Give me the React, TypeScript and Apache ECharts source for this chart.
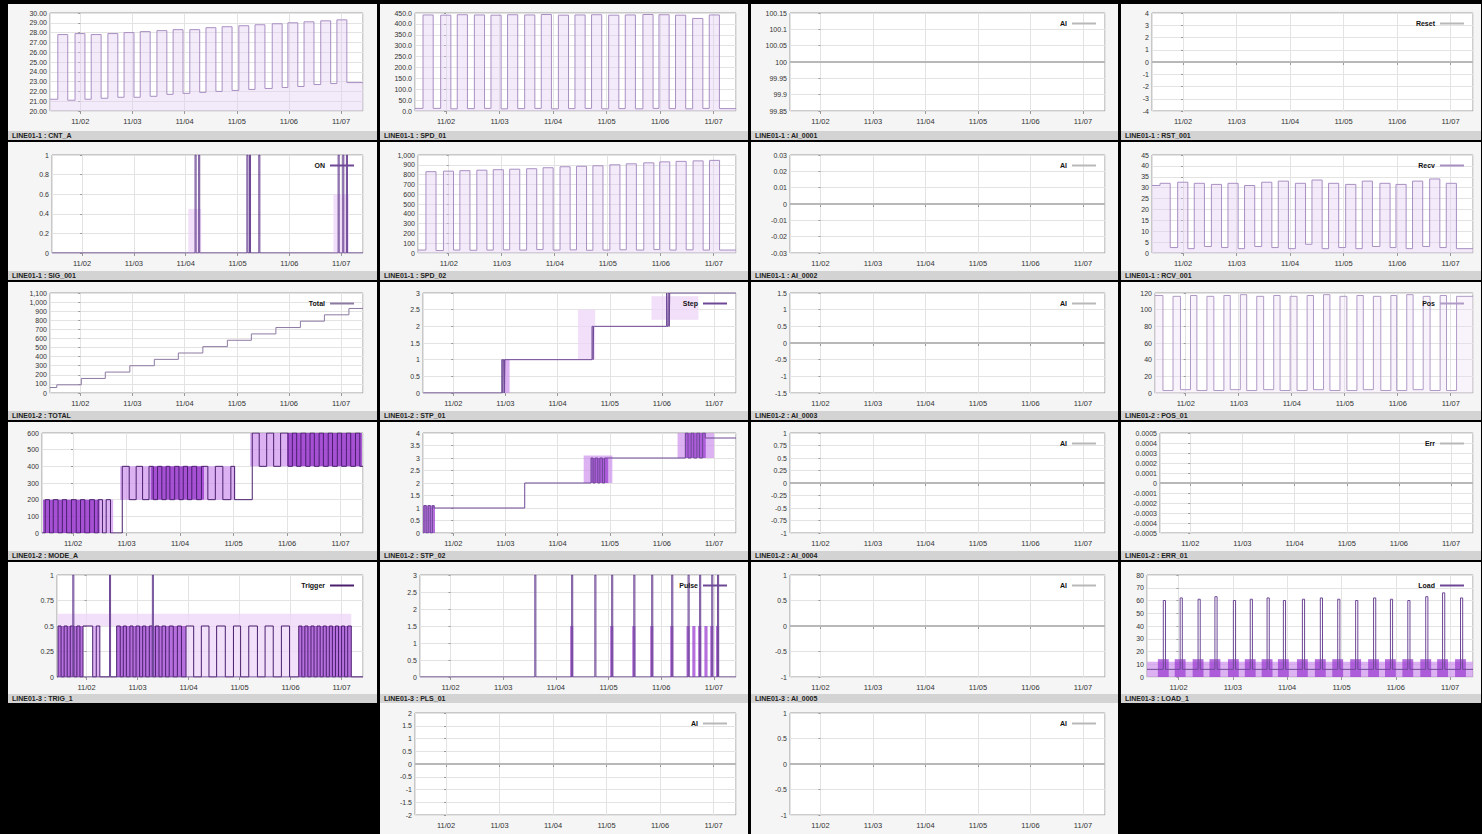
import React, { useEffect, useRef } from "react";
import * as echarts from "echarts";

// ---------- axis domain (days) and labels ----------
const XMIN = -0.58;
const XMAX = 5.42;
const X_LABELS = ["11/02", "11/03", "11/04", "11/05", "11/06", "11/07"];

const TITLES = [
  "LINE01-1 : CNT_A", "LINE01-1 : SPD_01", "LINE01-1 : AI_0001", "LINE01-1 : RST_001",
  "LINE01-1 : SIG_001", "LINE01-1 : SPD_02", "LINE01-1 : AI_0002", "LINE01-1 : RCV_001",
  "LINE01-2 : TOTAL", "LINE01-2 : STP_01", "LINE01-2 : AI_0003", "LINE01-2 : POS_01",
  "LINE01-2 : MODE_A", "LINE01-2 : STP_02", "LINE01-2 : AI_0004", "LINE01-2 : ERR_01",
  "LINE01-3 : TRIG_1", "LINE01-3 : PLS_01", "LINE01-3 : AI_0005", "LINE01-3 : LOAD_1",
  "LINE01-3 : POS_02", "LINE01-3 : AI_0006",
];

// ---------- shared machine cycle (rise / fall times) ----------
const UP = [-0.43, -0.10, 0.21, 0.53, 0.84, 1.15, 1.47, 1.78, 2.10, 2.41, 2.72, 3.04, 3.35, 3.68, 3.98, 4.29, 4.61, 4.92];
const DOWN = [-0.24, 0.09, 0.40, 0.72, 1.03, 1.34, 1.66, 1.97, 2.29, 2.60, 2.91, 3.23, 3.54, 3.87, 4.17, 4.48, 4.80, 5.11];

// panel 1
const P1_INIT = 21.2;
const P1_HIGH = [27.8, 27.9, 27.8, 27.9, 28.0, 28.1, 28.2, 28.3, 28.3, 28.5, 28.6, 28.7, 28.8, 28.9, 29.0, 29.1, 29.2, 29.3];
const P1_LOW = [21.1, 21.2, 21.3, 21.4, 21.4, 21.5, 21.7, 21.8, 21.9, 22.0, 22.1, 22.2, 22.3, 22.4, 22.5, 22.7, 22.8, 22.9];
// panel 2
const P2_INIT = 12;
const P2_HIGH = [441, 440, 442, 441, 440, 442, 441, 443, 440, 441, 442, 440, 441, 443, 442, 440, 425, 441];
const P2_LOW = [12, 10, 11, 12, 10, 11, 12, 10, 11, 12, 10, 11, 10, 12, 11, 10, 12, 11];
// panel 5
const P5_X = [-0.58, 2.18, 2.20, 2.25, 2.27, 3.18, 3.20, 3.23, 3.25, 3.41, 3.43, 4.94, 4.96, 5.03, 5.05, 5.10, 5.12, 5.42];
const P5_Y = [0, 1, 0, 1, 0, 1, 0, 1, 0, 1, 0, 1, 0, 1, 0, 1, 0, 0];
const P5_AREAS = [[2.05, 2.30, 0, 0.45, 0], [4.85, 5.15, 0, 0.6, 0]];
// panel 6
const P6_INIT = 30;
const P6_HIGH = [830, 835, 840, 845, 850, 855, 860, 870, 880, 885, 890, 900, 910, 920, 930, 935, 940, 945];
const P6_LOW = [25, 30, 28, 30, 32, 30, 35, 30, 32, 28, 30, 33, 30, 35, 30, 32, 30, 30];
// panel 8
const P8_INIT = 31;
const P8_HIGH = [32, 32.5, 32, 31.5, 32, 31, 32.5, 33, 32, 33.5, 32, 31.5, 33, 32, 31.5, 33, 34, 32];
const P8_LOW = [2.5, 2, 3, 2.5, 2, 3, 2.5, 2, 4, 2, 2.5, 2, 3, 2.5, 2, 3, 2.5, 2];
// panel 9
const P9_X = [-0.58, -0.45, 0.02, 0.48, 0.95, 1.42, 1.88, 2.35, 2.82, 3.28, 3.75, 4.22, 4.68, 5.15, 5.42];
const P9_Y = [60, 90, 160, 230, 300, 370, 440, 510, 580, 650, 720, 790, 860, 930, 930];
// panel 10
const P10_X = [-0.58, 0.93, 0.95, 0.96, 0.98, 0.99, 1.01, 2.66, 2.68, 2.69, 2.71, 4.09, 4.10, 4.12, 4.14, 4.15, 4.17, 5.42];
const P10_Y = [0, 1, 0, 1, 0, 1, 1, 2, 1, 2, 2, 3, 2, 3, 2, 3, 3, 3];
const P10_AREAS = [[0.97, 1.08, 0, 1, 1], [2.39, 2.72, 1, 2.5, 0], [3.80, 4.70, 2.2, 2.9, 0]];
// panel 12
const P12_INIT = 117;
const P12_HIGH = [116, 117, 116, 117, 118, 116, 117, 116, 117, 118, 116, 117, 116, 117, 118, 116, 117, 116];
const P12_LOW = [3, 4, 3, 3, 4, 3, 4, 3, 3, 4, 3, 3, 4, 3, 3, 4, 3, 3];
// panel 13
const P13_BANDS = [[0, 200], [200, 400], [400, 600]];
const P13_T1 = [-0.52, -0.44, -0.37, -0.28, -0.20, -0.12, -0.03, 0.06, 0.14, 0.22, 0.31, 0.40, 0.47, 0.55, 0.62, 0.70];
const P13_T2 = [0.92, 1.05, 1.18, 1.30, 1.42, 1.50, 1.58, 1.66, 1.74, 1.81, 1.90, 1.98, 2.06, 2.14, 2.22, 2.31, 2.40, 2.52, 2.66, 2.80, 2.95, 3.02];
const P13_T3 = [3.35, 3.48, 3.62, 3.75, 3.88, 4.02, 4.10, 4.18, 4.26, 4.35, 4.43, 4.51, 4.60, 4.68, 4.77, 4.85, 4.94, 5.02, 5.11, 5.19, 5.28, 5.36];
const P13_AREAS = [[-0.56, 0.50, 0, 200, 3], [0.50, 0.75, 0, 200, 1], [0.88, 1.45, 200, 400, 1], [1.45, 2.45, 200, 400, 3], [2.45, 3.03, 200, 400, 1], [3.31, 4.0, 400, 600, 1], [4.0, 5.40, 400, 600, 3]];
// panel 14
const P14_X = [-0.58, -0.56, -0.52, -0.48, -0.44, -0.40, -0.37, 1.37, 2.64, 2.68, 2.72, 2.77, 2.81, 2.86, 2.90, 2.95, 4.45, 4.50, 4.56, 4.61, 4.67, 4.72, 4.78, 4.83, 5.42];
const P14_Y = [0, 1.1, 0, 1.1, 0, 1.1, 1.0, 2.0, 3.0, 2.0, 3.0, 2.0, 3.0, 2.0, 3.0, 3.0, 4.0, 3.0, 4.0, 3.0, 4.0, 3.0, 4.0, 3.8, 3.8];
const P14_AREAS = [[-0.58, -0.35, 0, 1.1, 2], [2.50, 3.05, 2.0, 3.1, 1], [2.64, 2.97, 2.0, 3.0, 2], [4.30, 5.00, 3.0, 4.0, 1], [4.44, 4.84, 3.0, 4.0, 2]];
// panel 17
const P17_BANDS = [[0, 0.5]];
const P17_T = [-0.56, -0.50, -0.44, -0.38, -0.32, -0.25, -0.19, -0.13, -0.07, 0.12, 0.19, 0.26, 0.59, 0.66, 0.72, 0.78, 0.85, 0.91, 0.97, 1.04, 1.10, 1.16, 1.23, 1.29, 1.35, 1.42, 1.48, 1.55, 1.62, 1.70, 1.78, 1.86, 1.95, 2.10, 2.25, 2.40, 2.55, 2.72, 2.88, 3.02, 3.18, 3.35, 3.50, 3.66, 3.82, 3.98, 4.16, 4.22, 4.28, 4.34, 4.40, 4.46, 4.52, 4.58, 4.64, 4.70, 4.76, 4.82, 4.88, 4.94, 5.00, 5.06, 5.12, 5.19];
const P17_SPIKES = [-0.27, 0.45, 1.29];
const P17_AREAS = [[-0.56, 5.19, 0.5, 0.62, 0], [-0.56, -0.07, 0, 0.5, 2], [0.12, 0.26, 0, 0.5, 1], [0.59, 1.95, 0, 0.5, 2], [1.95, 4.16, 0, 0.5, 0], [4.16, 5.19, 0, 0.5, 2]];
// panel 18
const P18_SPIKES = [1.60, 2.30, 2.74, 3.06, 3.48, 3.82, 4.20, 4.51, 4.73, 4.96, 5.07];
const P18_DARK = [2.30, 3.06, 3.48, 3.82, 4.20, 4.51, 4.62, 4.73, 4.85, 4.96, 5.07];
// panel 20
const P20_SPIKES = [-0.28, 0.03, 0.36, 0.67, 1.01, 1.32, 1.63, 1.93, 2.28, 2.61, 2.93, 3.26, 3.59, 3.90, 4.22, 4.55, 4.86, 5.19];
const P20_PEAK = [60, 62, 61, 63, 60, 61, 62, 60, 61, 62, 61, 60, 62, 61, 60, 63, 66, 62];
const P20_BASE = 6;
const P20_BAND = [0, 12];
// flat channels (panels 3, 4, 7, 11, 15, 16, 19, 21, 22)
const FLAT_VALUES = [100, 0, 0, 0, 0, 0, 0, 0, 0];

// ---------- layout ----------
const COL_X = [8, 380, 751, 1121];
const COL_W = [369, 368, 367, 360];
const COL_RIGHT = [363, 736, 1105, 1473];
const ROW_Y = [4, 142, 282, 422, 562, 703];
const ROW_H = [136, 138, 138, 138, 141, 131];
const PLOT_TOP = [13, 155, 293, 433, 575, 713];
const PLOT_BOT = [111, 253, 393, 533, 677, 815];

const AREA_COLORS = ["rgba(238,212,247,0.75)", "rgba(205,145,236,0.7)", "rgba(158,64,210,0.75)", "rgba(150,50,205,0.85)"];

// ---------- builders ----------
function cycle(t1: number[], t2: number[], l1: number[], l2: number[], init: number) {
  const pts: number[][] = [[XMIN, init]];
  t1.forEach((t, i) => {
    pts.push([t, l1[i]]);
    pts.push([t2[i], l2[i]]);
  });
  pts.push([XMAX, l2[l2.length - 1]]);
  return pts;
}
function zip(xs: number[], ys: number[]) {
  return xs.map((x, i) => [x, ys[i]]);
}
function flat(v: number) {
  return [[XMIN, v], [XMAX, v]];
}
function toggleLine(blocks: number[][], bands: number[][]) {
  const pts: number[][] = [[XMIN, bands[0][0]]];
  blocks.forEach((ts, j) => ts.forEach((t, k) => pts.push([t, k % 2 === 0 ? bands[j][1] : bands[j][0]])));
  pts.push([XMAX, pts[pts.length - 1][1]]);
  return pts;
}
function spikes(xs: number[], peaks: number[], base: number, w: number) {
  const pts: number[][] = [[XMIN, base]];
  xs.forEach((x, i) => {
    pts.push([x, peaks[i]]);
    pts.push([x + w, base]);
  });
  pts.push([XMAX, base]);
  return pts;
}

type S = { name: string; kind: string; data: number[][]; areas?: number[][] };
type P = { col: number; row: number; left: number; min: number; max: number; step: number; dec?: number; legend?: string; series: S[] };

const PANELS: P[] = [
  { col: 0, row: 0, left: 50, min: 20, max: 30, step: 1, dec: 2, series: [{ name: "CNT_A", kind: "wave", data: cycle(UP, DOWN, P1_HIGH, P1_LOW, P1_INIT) }] },
  { col: 1, row: 0, left: 415, min: 0, max: 450, step: 50, dec: 1, series: [{ name: "SPD_01", kind: "wave", data: cycle(UP, DOWN, P2_HIGH, P2_LOW, P2_INIT) }] },
  { col: 2, row: 0, left: 790, min: 99.85, max: 100.15, step: 0.05, legend: "AI", series: [{ name: "AI", kind: "flat", data: flat(FLAT_VALUES[0]) }] },
  { col: 3, row: 0, left: 1152, min: -4, max: 4, step: 1, legend: "Reset", series: [{ name: "Reset", kind: "flat", data: flat(FLAT_VALUES[1]) }] },

  { col: 0, row: 1, left: 52, min: 0, max: 1, step: 0.2, legend: "ON", series: [{ name: "ON", kind: "sig", data: zip(P5_X, P5_Y), areas: P5_AREAS }] },
  { col: 1, row: 1, left: 418, min: 0, max: 1000, step: 100, series: [{ name: "SPD_02", kind: "wave", data: cycle(UP, DOWN, P6_HIGH, P6_LOW, P6_INIT) }] },
  { col: 2, row: 1, left: 790, min: -0.03, max: 0.03, step: 0.01, legend: "AI", series: [{ name: "AI", kind: "flat", data: flat(FLAT_VALUES[2]) }] },
  { col: 3, row: 1, left: 1152, min: 0, max: 45, step: 5, legend: "Recv", series: [{ name: "Recv", kind: "wave", data: cycle(UP, DOWN, P8_HIGH, P8_LOW, P8_INIT) }] },

  { col: 0, row: 2, left: 50, min: 0, max: 1100, step: 100, legend: "Total", series: [{ name: "Total", kind: "thin", data: zip(P9_X, P9_Y) }] },
  { col: 1, row: 2, left: 423, min: 0, max: 3, step: 0.5, legend: "Step", series: [{ name: "Step", kind: "sig", data: zip(P10_X, P10_Y), areas: P10_AREAS }] },
  { col: 2, row: 2, left: 790, min: -1.5, max: 1.5, step: 0.5, legend: "AI", series: [{ name: "AI", kind: "flat", data: flat(FLAT_VALUES[3]) }] },
  { col: 3, row: 2, left: 1155, min: 0, max: 120, step: 20, legend: "Pos", series: [{ name: "Pos", kind: "wave2", data: cycle(UP, DOWN, P12_LOW, P12_HIGH, P12_INIT) }] },

  { col: 0, row: 3, left: 42, min: 0, max: 600, step: 100, series: [{ name: "MODE_A", kind: "dense", data: toggleLine([P13_T1, P13_T2, P13_T3], P13_BANDS), areas: P13_AREAS }] },
  { col: 1, row: 3, left: 423, min: 0, max: 4, step: 0.5, series: [{ name: "STP_02", kind: "sig", data: zip(P14_X, P14_Y), areas: P14_AREAS }] },
  { col: 2, row: 3, left: 790, min: -1, max: 1, step: 0.25, legend: "AI", series: [{ name: "AI", kind: "flat", data: flat(FLAT_VALUES[4]) }] },
  { col: 3, row: 3, left: 1160, min: -0.0005, max: 0.0005, step: 0.0001, legend: "Err", series: [{ name: "Err", kind: "flat", data: flat(FLAT_VALUES[5]) }] },

  {
    col: 0, row: 4, left: 57, min: 0, max: 1, step: 0.25, legend: "Trigger",
    series: [
      { name: "Trigger", kind: "dense", data: toggleLine([P17_T], P17_BANDS), areas: P17_AREAS },
      { name: "Trigger", kind: "sig", data: spikes(P17_SPIKES, P17_SPIKES.map(() => 1), 0, 0.02) },
    ],
  },
  {
    col: 1, row: 4, left: 420, min: 0, max: 3, step: 0.5, legend: "Pulse",
    series: [{ name: "Pulse", kind: "sig", data: spikes(P18_SPIKES, P18_SPIKES.map(() => 3), 0, 0.02), areas: P18_DARK.map((x) => [x - 0.03, x + 0.03, 0, 1.5, 2]) }],
  },
  { col: 2, row: 4, left: 790, min: -1, max: 1, step: 0.5, legend: "AI", series: [{ name: "AI", kind: "flat", data: flat(FLAT_VALUES[6]) }] },
  {
    col: 3, row: 4, left: 1147, min: 0, max: 80, step: 10, legend: "Load",
    series: [{
      name: "Load", kind: "sig", data: spikes(P20_SPIKES, P20_PEAK, P20_BASE, 0.04),
      areas: [[XMIN, XMAX, P20_BAND[0], P20_BAND[1], 1], ...P20_SPIKES.map((x) => [x - 0.1, x + 0.1, P20_BAND[0], P20_BAND[1] + 2, 2])],
    }],
  },

  { col: 1, row: 5, left: 415, min: -2, max: 2, step: 0.5, legend: "AI", series: [{ name: "AI", kind: "flat", data: flat(FLAT_VALUES[7]) }] },
  { col: 2, row: 5, left: 790, min: -1, max: 1, step: 0.5, legend: "AI", series: [{ name: "AI", kind: "flat", data: flat(FLAT_VALUES[8]) }] },
];

const KIND_STYLE: Record<string, { color: string; width: number; area?: string }> = {
  wave: { color: "#a88fc2", width: 1, area: "rgba(226,202,242,0.55)" },
  wave2: { color: "#b09ac6", width: 1, area: "rgba(236,220,246,0.45)" },
  flat: { color: "#b8b8b8", width: 2 },
  sig: { color: "#6e4896", width: 1 },
  thin: { color: "#8d7aa3", width: 1 },
  dense: { color: "#4a1f6e", width: 1 },
};

function buildOption() {
  const grid: any[] = [];
  const xAxis: any[] = [];
  const yAxis: any[] = [];
  const series: any[] = [];
  const legend: any[] = [];
  const graphic: any[] = [];

  PANELS.forEach((p, i) => {
    const px = COL_X[p.col];
    const pw = COL_W[p.col];
    const py = ROW_Y[p.row];
    const ph = ROW_H[p.row];
    graphic.push({ type: "rect", z: -10, silent: true, shape: { x: px, y: py, width: pw, height: ph }, style: { fill: "#f5f5f5" } });
    if (p.row < 5) {
      graphic.push({ type: "rect", z: -9, silent: true, shape: { x: px, y: py + ph - 9, width: pw, height: 9 }, style: { fill: "#d3d3d3" } });
      graphic.push({
        type: "text", z: 50, silent: true, x: px + 4, y: py + ph - 4.5,
        style: { text: TITLES[i], fontSize: 7, fontWeight: "bold", fill: "#222", verticalAlign: "middle", fontFamily: "Liberation Sans, Arial, sans-serif" },
      });
    }
    const right = COL_RIGHT[p.col];
    grid.push({
      left: p.left, top: PLOT_TOP[p.row], width: right - p.left, height: PLOT_BOT[p.row] - PLOT_TOP[p.row],
      show: true, backgroundColor: "#ffffff", borderColor: "#9a9a9a", borderWidth: 1, containLabel: false,
    });
    xAxis.push({
      gridIndex: i, type: "value", min: XMIN, max: XMAX, splitNumber: 6, minInterval: 1, maxInterval: 1,
      axisLine: { show: false },
      axisTick: { show: true, length: 3, lineStyle: { color: "#999" } },
      splitLine: { show: true, lineStyle: { color: "#e3e3e3", width: 1 } },
      axisLabel: {
        fontSize: 7.5, color: "#333", margin: 6, showMinLabel: false, showMaxLabel: false,
        formatter: (v: number) => {
          const k = Math.round(v);
          if (Math.abs(v - k) > 1e-6 || k < 0 || k >= X_LABELS.length) return "";
          return X_LABELS[k];
        },
      },
    });
    yAxis.push({
      gridIndex: i, type: "value", min: p.min, max: p.max, interval: p.step,
      axisLine: { show: false },
      axisTick: { show: true, length: 2, lineStyle: { color: "#999" } },
      splitLine: { show: true, lineStyle: { color: "#e3e3e3", width: 1 } },
      axisLabel: {
        fontSize: 7, color: "#333", margin: 3,
        formatter: p.dec !== undefined ? (v: number) => v.toFixed(p.dec) : undefined,
      },
    });
    p.series.forEach((s) => {
      const st = KIND_STYLE[s.kind];
      const obj: any = {
        type: "line", name: s.name, xAxisIndex: i, yAxisIndex: i, data: s.data,
        step: s.kind === "flat" ? false : "end", showSymbol: false, symbol: "none", silent: true,
        color: st.color, lineStyle: { color: st.color, width: st.width }, z: 3,
      };
      if (st.area) obj.areaStyle = { color: st.area, origin: "start" };
      if (s.areas) {
        obj.markArea = {
          silent: true, label: { show: false },
          data: s.areas.map((a) => [
            { coord: [a[0], a[2]], itemStyle: { color: AREA_COLORS[a[4]] } },
            { coord: [a[1], a[3]] },
          ]),
        };
      }
      series.push(obj);
    });
    if (p.legend) {
      legend.push({
        data: [p.legend], top: PLOT_TOP[p.row] + 6, right: 1482 - right + 8,
        itemWidth: 24, itemHeight: 2, icon: "rect", align: "right", itemGap: 4, padding: 1,
        selectedMode: false,
        textStyle: { fontSize: 7, color: "#111", fontWeight: "bold", fontFamily: "Liberation Sans, Arial, sans-serif" },
      });
    }
  });

  return {
    animation: false,
    backgroundColor: "#000000",
    textStyle: { fontFamily: "Liberation Sans, Arial, sans-serif" },
    grid, xAxis, yAxis, series, legend, graphic,
  };
}

export default function App() {
  const ref = useRef<HTMLDivElement>(null);
  useEffect(() => {
    if (!ref.current) return;
    const chart = echarts.init(ref.current, undefined, { renderer: "svg" });
    chart.setOption(buildOption() as any);
    return () => chart.dispose();
  }, []);
  return (
    <div
      ref={ref}
      style={{ position: "fixed", left: 0, top: 0, width: 1482, height: 834, background: "#000" }}
    />
  );
}
